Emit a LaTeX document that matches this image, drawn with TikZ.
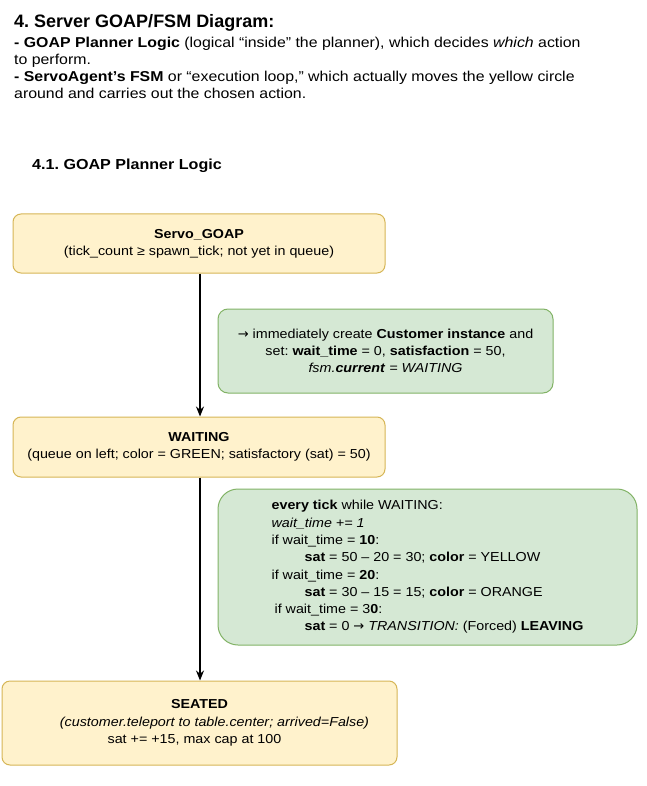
\documentclass[tikz,border=0pt]{standalone}
\usepackage{fontspec}
\setmainfont{Liberation Sans}[FakeStretch=1.1]
\newfontfamily\plainsans{Liberation Sans}
\newfontfamily\widesans{Liberation Sans}[FakeStretch=1.11]
\newfontfamily\arrowfont{DejaVu Sans}
\newcommand{\rarr}{{\arrowfont\mdseries\upshape →}}
\usetikzlibrary{arrows.meta}
\definecolor{yfill}{HTML}{FFF2CC}
\definecolor{ydraw}{HTML}{D6B656}
\definecolor{gfill}{HTML}{D5E8D4}
\definecolor{gdraw}{HTML}{82B366}
\frenchspacing
\tikzset{
  ybox/.style={draw=ydraw, fill=yfill, line width=1pt, rounded corners=8pt, inner sep=0pt, align=center,
    font=\fontsize{13}{17.3}\selectfont},
  gbox/.style={draw=gdraw, fill=gfill, line width=1pt, inner sep=0pt, align=center,
    font=\fontsize{13}{17.3}\selectfont},
  flow/.style={draw=black, line width=1.3pt, -{Stealth[length=10pt,width=8pt]}},
  txt/.style={inner sep=0pt, anchor=base west, font=\widesans\fontsize{14.3}{17}\selectfont}
}
\begin{document}
\begin{tikzpicture}[x=1pt,y=-1pt]
\useasboundingbox (0,0) rectangle (646,786);
\fill[white] (0,0) rectangle (646,786);

\node[txt, font=\plainsans\fontsize{18}{20}\selectfont\bfseries] (title) at (14,28) {4. Server GOAP/FSM Diagram:};
\node[txt] (l1) at (14,48) {\textbf{- GOAP Planner Logic} (logical “inside” the planner), which decides \textit{which} action};
\node[txt] (l2) at (14,64.5) {to perform.};
\node[txt] (l3) at (14,82) {\textbf{- ServoAgent’s FSM} or “execution loop,” which actually moves the yellow circle};
\node[txt] (l4) at (14,99) {around and carries out the chosen action.};
\node[txt, font=\widesans\fontsize{14.5}{17}\selectfont\bfseries] (sub) at (32,170) {4.1. GOAP Planner Logic};

\node[ybox, minimum width=372pt, minimum height=59pt] (servo) at (199,243.5)
  {\textbf{Servo\_GOAP}\\(tick\_count ≥ spawn\_tick; not yet in queue)};

\node[gbox, rounded corners=10pt, minimum width=335pt, minimum height=84pt] (note1) at (385.5,351)
  {\rarr{} immediately create \textbf{Customer instance} and\\
   set: \textbf{wait\_time} = 0, \textbf{satisfaction} = 50,\\
   \textit{fsm.}\textbf{\textit{current}} \textit{= WAITING}};

\node[ybox, minimum width=372pt, minimum height=60pt] (waiting) at (199,447)
  {\textbf{WAITING}\\(queue on left; color = GREEN; satisfactory (sat) = 50)};

\node[gbox, rounded corners=20pt, minimum width=419pt, minimum height=156pt, align=left] (note2) at (427.5,567)
  {\textbf{every tick} while WAITING:\\
   \textit{wait\_time += 1}\\
   if wait\_time = \textbf{10}:\\
   \hspace*{33pt}\textbf{sat} = 50 – 20 = 30; \textbf{color} = YELLOW\\
   if wait\_time = \textbf{20}:\\
   \hspace*{33pt}\textbf{sat} = 30 – 15 = 15; \textbf{color} = ORANGE\\
   \hspace*{3pt}if wait\_time = 3\textbf{0}:\\
   \hspace*{33pt}\textbf{sat} = 0 \rarr{} \textit{TRANSITION:} (Forced) \textbf{LEAVING}};

\node[ybox, minimum width=395pt, minimum height=84pt] (seated) at (199.5,723)
  {\textbf{SEATED}\\
   \hspace*{30pt}\textit{(customer.teleport to table.center; arrived=False)}\\
   sat += +15, max cap at 100\hspace*{10pt}};

\draw[flow] (servo.south -| 200,0) -- (waiting.north -| 200,0);
\draw[flow] (waiting.south -| 200,0) -- (seated.north -| 200,0);
\end{tikzpicture}
\end{document}
